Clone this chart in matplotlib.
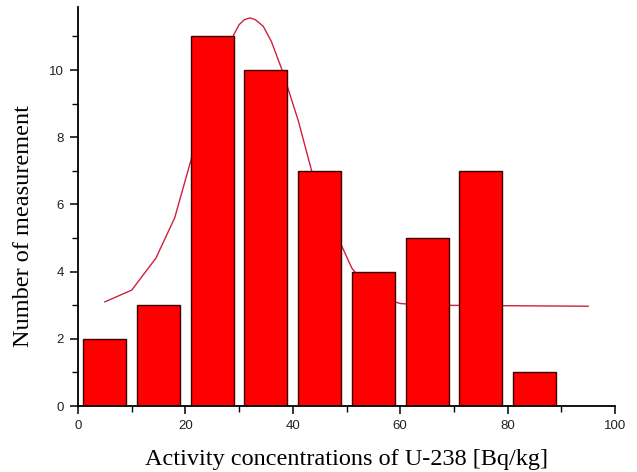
import matplotlib
matplotlib.use("Agg")
import matplotlib.pyplot as plt
from matplotlib.ticker import MultipleLocator

# histogram data
bin_centers = [5, 15, 25, 35, 45, 55, 65, 75, 85]
counts = [2, 3, 11, 10, 7, 4, 5, 7, 1]
bar_width = 8

# fitted curve
fit_x = [5, 10, 14.5, 18, 21, 25, 29, 30, 31, 32, 33, 34.5, 36, 38, 41, 43.5,
         47, 51, 55, 60, 65, 95]
fit_y = [3.1, 3.45, 4.4, 5.6, 7.3, 9.4, 11.05, 11.35, 11.5, 11.55, 11.5, 11.3,
         10.85, 10.0, 8.5, 7.0, 5.5, 4.1, 3.3, 3.05, 3.0, 2.97]

fig = plt.figure(figsize=(6.37, 4.72), dpi=100)
ax = fig.add_axes([0.1225, 0.1398, 0.843, 0.845])

ax.plot(fit_x, fit_y, color='#d0203c', linewidth=1.0, zorder=1)
ax.bar(bin_centers, counts, width=bar_width, color='#ff0000',
       edgecolor='#3a0000', linewidth=1.0, zorder=2)

ax.set_xlim(0, 100)
ax.set_ylim(0, 11.87)
ax.xaxis.set_major_locator(MultipleLocator(20))
ax.xaxis.set_minor_locator(MultipleLocator(10))
ax.yaxis.set_major_locator(MultipleLocator(2))
ax.yaxis.set_minor_locator(MultipleLocator(1))

for side in ['top', 'right']:
    ax.spines[side].set_visible(False)
for side in ['left', 'bottom']:
    ax.spines[side].set_linewidth(1.3)

ax.tick_params(which='major', direction='out', length=6, width=1.1,
               labelsize=9.5, pad=4, labelcolor='#222222')
ax.tick_params(which='minor', direction='out', length=4, width=1.0)
for lbl in ax.get_xticklabels() + ax.get_yticklabels():
    lbl.set_fontfamily('Liberation Sans')

ax.set_xlabel('Activity concentrations of U-238 [Bq/kg]',
              fontfamily='Liberation Serif', fontsize=17.5, labelpad=12)
ax.set_ylabel('Number of measurement',
              fontfamily='Liberation Serif', fontsize=17.5)
ax.yaxis.set_label_coords(-0.082, 0.451)

fig.savefig('out.png', dpi=100)
